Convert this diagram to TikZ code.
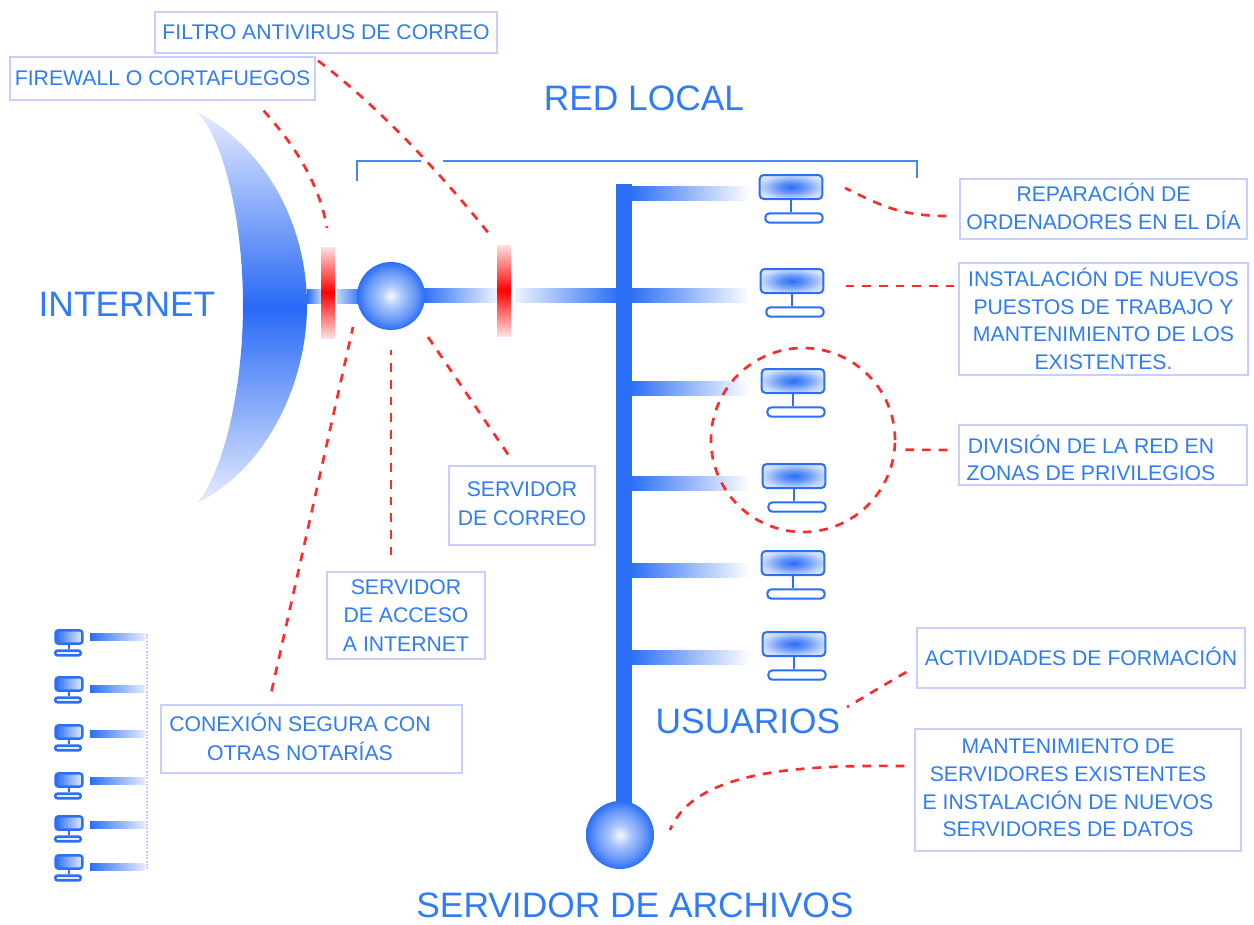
\documentclass[tikz,border=0pt]{standalone}
\usepackage{fontspec}
\setmainfont{Liberation Sans}
\definecolor{netblue}{HTML}{2A6FF5}
\definecolor{textblue}{HTML}{2F7BFA}
\definecolor{paleblue}{HTML}{E6ECFF}
\definecolor{boxblue}{HTML}{C8CEFF}
\definecolor{linkred}{HTML}{FF2A2A}
\pgfdeclareradialshading{ballshade}{\pgfpoint{0bp}{0bp}}{color(0bp)=(white!95!netblue); color(8bp)=(white!60!netblue); color(18bp)=(netblue!72!white); color(25bp)=(netblue); color(50bp)=(netblue)}
\pgfdeclareradialshading{screenshade}{\pgfpoint{0bp}{0bp}}{color(0bp)=(netblue); color(10bp)=(netblue!75!white); color(25bp)=(netblue!25!white); color(35bp)=(netblue!10!white); color(50bp)=(white)}
\tikzset{
	callbox/.style={draw=boxblue,line width=1pt,text=textblue,align=center,inner sep=0pt,font=\fontsize{15.9}{21.5}\selectfont},
	calltext/.style={text=textblue,align=center,inner sep=0pt,font=\fontsize{15.9}{20.7}\selectfont},
	bigtitle/.style={text=textblue,inner sep=0pt,font=\fontsize{26.5}{30}\selectfont},
	leader/.style={draw=linkred,line width=2pt,dash pattern=on 6.5pt off 6pt},
	screen/.style={draw=netblue,line width=1.5pt,rounded corners=3pt,shading=screenshade,minimum width=47pt,minimum height=18pt,inner sep=0pt},
	stand/.style={draw=netblue,line width=1.5pt,fill=white,rounded corners=3pt,minimum width=43pt,minimum height=7pt,inner sep=0pt},
	smallscreen/.style={draw=netblue,line width=1.8pt,rounded corners=2pt,left color=netblue,right color=paleblue,minimum width=20pt,minimum height=10pt,inner sep=0pt},
	smallstand/.style={draw=netblue,line width=1.8pt,fill=paleblue,rounded corners=1.5pt,minimum width=19pt,minimum height=3.5pt,inner sep=0pt}
}
\begin{document}
\begin{tikzpicture}[x=0.75pt,y=-0.75pt,line cap=butt,line join=miter]
	\useasboundingbox (0,0) rectangle (1254,925);
	% titles
	\node[bigtitle] (redlocal) at (644,98) {RED LOCAL};
	\node[bigtitle] (internet) at (127,304) {INTERNET};
	\node[bigtitle] (usuarios) at (748,721) {USUARIOS};
	\node[bigtitle] (archivos) at (635,905) {SERVIDOR DE ARCHIVOS};
	% bracket
	\draw[netblue!85!white,line width=1.8pt] (357,181) |- (421,161) (443,161) -| (917,178);
	% cloud
	\shade[top color=paleblue,bottom color=paleblue,middle color=netblue!95!blue]
		(197,112) .. controls (270,150) and (307,230) .. (307,305)
		.. controls (307,385) and (265,470) .. (197,503)
		.. controls (225,470) and (243,385) .. (243,305)
		.. controls (243,225) and (225,140) .. (197,112) -- cycle;
	% bars
	\shade[left color=netblue,right color=netblue!30!white] (307,289) rectangle (321,303);
	\shade[left color=netblue!30!white,right color=netblue] (337,289) rectangle (362,303);
	\shade[left color=netblue,right color=netblue!8!white] (422,288) rectangle (497,302);
	\shade[left color=netblue!8!white,right color=netblue] (515,288) rectangle (618,302);
	\fill[netblue] (616,184) rectangle (632,815);
	\foreach \y in {193,295,388,483,570,657}{
		\shade[left color=netblue,right color=white] (630,\y-7) rectangle (750,\y+7);
	}
	% firewalls
	\shade[top color=red!12!white,bottom color=red!12!white,middle color=red] (321,247) rectangle (335,338);
	\shade[top color=red!12!white,bottom color=red!12!white,middle color=red] (497,245) rectangle (511,336);
	% servers
	\node[circle,minimum size=51pt,inner sep=0pt,shading=ballshade] (accessball) at (391,296) {};
	\node[circle,minimum size=51pt,inner sep=0pt,shading=ballshade] (fileball) at (620,835) {};
	% users
	\foreach \i/\x/\y in {1/791/187,2/792/281,3/793/381,4/794/476,5/793/563,6/794/644}{
		\node[screen] (screen\i) at (\x,\y) {};
		\node[stand] (base\i) at (\x+3,\y+31) {};
		\draw[netblue,line width=1.5pt] (screen\i.south) -- (base\i.north-|screen\i.south);
	}
	% other offices
	\foreach \i/\y in {1/637,2/684,3/732,4/780,5/823,6/862}{
		\node[smallscreen] (office\i) at (69,\y) {};
		\node[smallstand] (officebase\i) at (68,\y+16) {};
		\draw[netblue,line width=1.8pt] (office\i.south) -- (officebase\i.north-|office\i.south);
	}
	\foreach \y in {637,689,734,781,825,867}{
		\shade[left color=netblue,right color=paleblue] (90,\y-3.5) rectangle (145,\y+3.5);
	}
	\draw[boxblue,line width=1.5pt,densely dotted] (147,634) -- (147,870);
	% boxes
	\node[callbox,minimum width=256.5pt,minimum height=30.75pt] (filtro) at (326,32.5) {FILTRO ANTIVIRUS DE CORREO};
	\node[callbox,minimum width=228.75pt,minimum height=32.25pt] (firewall) at (162.5,78.5) {FIREWALL O CORTAFUEGOS};
	\node[callbox,minimum width=215.25pt,minimum height=45pt,text depth=4pt] (reparacion) at (1103.5,209) {REPARACIÓN DE\\ORDENADORES EN EL DÍA};
	\node[callbox,minimum width=216.75pt,minimum height=84pt,font=\fontsize{15.9}{20.7}\selectfont] (instalacion) at (1103.5,319) {INSTALACIÓN DE NUEVOS\\PUESTOS DE TRABAJO Y\\MANTENIMIENTO DE LOS\\EXISTENTES.};
	\node[callbox,minimum width=216pt,minimum height=45pt] (division) at (1103,455) {};
	\node[calltext] (divisiontext) at (1091,458) {DIVISIÓN DE LA RED EN\\ZONAS DE PRIVILEGIOS};
	\node[callbox,minimum width=246pt,minimum height=45pt,text depth=3pt] (actividades) at (1081,658) {ACTIVIDADES DE FORMACIÓN};
	\node[callbox,minimum width=244.5pt,minimum height=91.5pt] (mantenimiento) at (1078,790) {};
	\node[calltext] (mantenimientotext) at (1068,788) {MANTENIMIENTO DE\\SERVIDORES EXISTENTES\\E INSTALACIÓN DE NUEVOS\\SERVIDORES DE DATOS};
	\node[callbox,minimum width=109.5pt,minimum height=59.25pt,text depth=3pt] (correo) at (522,505.5) {SERVIDOR\\DE CORREO};
	\node[callbox,minimum width=118.5pt,minimum height=65.25pt] (acceso) at (406,615.5) {SERVIDOR\\DE ACCESO\\A INTERNET};
	\node[callbox,minimum width=225.75pt,minimum height=51pt] (conexion) at (311.5,739) {};
	\node[calltext,font=\fontsize{15.9}{21.5}\selectfont] (conexiontext) at (300,737) {CONEXIÓN SEGURA CON\\OTRAS NOTARÍAS};
	% zone circle
	\node[circle,minimum size=138pt,inner sep=0pt,leader] (zona) at (803,440) {};
	% link ends
	\coordinate (firewallend) at (327,228);
	\coordinate (filtroend) at (490,235);
	\coordinate (conexionend) at (353,327);
	\coordinate (accesoend) at (391,350);
	\coordinate (correoend) at (428,337);
	\coordinate (reparacionend) at (845,188);
	\coordinate (instalacionend) at (845,286);
	\coordinate (actividadesend) at (847,707);
	\coordinate (mantenimientoend) at (670,830);
	% leaders
	\draw[leader] ([shift={(-52,10)}]firewall.south east) .. controls (285,135) and (318,175) .. (firewallend);
	\draw[leader] ([shift={(-8,7)}]filtro.south) .. controls (370,100) and (430,160) .. (filtroend);
	\draw[leader] ([shift={(-40,-13)}]conexion.north) -- (conexionend);
	\draw[leader] ([shift={(-15,-16)}]acceso.north) -- (accesoend);
	\draw[leader] ([shift={(-14,-11)}]correo.north) -- (correoend);
	\draw[leader] ([shift={(-13,7)}]reparacion.west) .. controls (900,216) and (880,205) .. (reparacionend);
	\draw[leader] ([shift={(-4,-33)}]instalacion.west) -- (instalacionend);
	\draw[leader] ([shift={(-11,-5)}]division.west) -- ([shift={(7,0)}]zona.-6);
	\draw[leader] ([shift={(-10,14)}]actividades.west) -- (actividadesend);
	\draw[leader] ([shift={(-10,-24)}]mantenimiento.west) .. controls (800,765) and (695,770) .. (mantenimientoend);
\end{tikzpicture}
\end{document}
